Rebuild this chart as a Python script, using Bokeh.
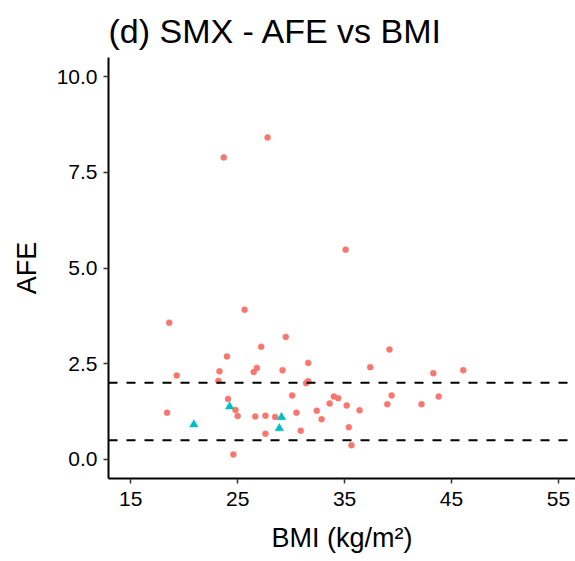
from bokeh.plotting import figure
from bokeh.models import Span, Range1d, FixedTicker
from bokeh.embed import file_html
from bokeh.resources import INLINE

# Group A (circles)
bmi_a = [18.6, 25.65, 19.3, 18.4, 24.0, 23.3, 23.2, 24.1, 24.8, 25.0, 24.6,
         27.2, 29.5, 26.8, 26.5, 29.2, 26.65, 27.6, 27.6, 28.5, 30.1, 30.5,
         30.9, 31.6, 31.6, 31.4, 32.4, 32.85, 33.6, 34.0, 34.4, 35.2, 35.4,
         35.65, 36.4, 37.4, 39.2, 39.0, 39.4, 42.2, 43.3, 43.8, 46.1,
         23.7, 27.8, 35.1]
afe_a = [3.57, 3.91, 2.19, 1.22, 2.69, 2.30, 2.05, 1.58, 1.29, 1.13, 0.13,
         2.94, 3.20, 2.39, 2.28, 2.33, 1.12, 1.14, 0.67, 1.11, 1.67, 1.22,
         0.75, 2.52, 2.04, 1.99, 1.27, 1.05, 1.46, 1.64, 1.60, 1.41, 0.84,
         0.37, 1.28, 2.41, 2.87, 1.44, 1.67, 1.44, 2.25, 1.64, 2.33,
         7.89, 8.41, 5.48]

# Group B (triangles)
bmi_b = [20.9, 24.25, 29.1, 28.9]
afe_b = [0.91, 1.38, 1.10, 0.81]

x_ticks = [15, 25, 35, 45, 55]
y_ticks = [0, 2.5, 5, 7.5, 10]
y_tick_labels = ["0.0", "2.5", "5.0", "7.5", "10.0"]
limit_lines = [0.5, 2.0]

FONT = "Liberation Sans"

p = figure(width=575, height=561, output_backend="svg", toolbar_location=None,
           x_range=Range1d(12.92, 56.6), y_range=Range1d(-0.5, 10.5),
           title="(d) SMX - AFE vs BMI",
           min_border_left=108, min_border_right=0, min_border_top=57,
           min_border_bottom=83, background_fill_color="white",
           border_fill_color="white", outline_line_color=None)

p.title.text_font = FONT
p.title.text_font_size = "34px"
p.title.text_font_style = "normal"
p.title.align = "left"
p.title.text_color = "black"
p.title.standoff = 12
p.title.vertical_align = "top"

p.xgrid.visible = False
p.ygrid.visible = False

for ax in (p.xaxis[0], p.yaxis[0]):
    ax.axis_line_color = "black"
    ax.axis_line_width = 2
    ax.major_tick_line_color = "#333333"
    ax.major_tick_line_width = 1.5
    ax.major_tick_out = 5
    ax.major_tick_in = 0
    ax.minor_tick_line_color = None
    ax.major_label_text_font = FONT
    ax.major_label_text_font_size = "21px"
    ax.major_label_text_color = "black"
    ax.axis_label_text_font = FONT
    ax.axis_label_text_font_size = "27px"
    ax.axis_label_text_font_style = "normal"
    ax.axis_label_text_color = "black"

p.xaxis.ticker = FixedTicker(ticks=x_ticks)
p.yaxis.ticker = FixedTicker(ticks=y_ticks)
p.yaxis.major_label_overrides = {t: l for t, l in zip(y_ticks, y_tick_labels)}
p.xaxis.axis_label = "BMI (kg/m²)"
p.yaxis.axis_label = "AFE"
p.xaxis.major_label_standoff = 8
p.yaxis.major_label_standoff = 6
p.xaxis.axis_label_standoff = 14
p.yaxis.axis_label_standoff = 12

for v in limit_lines:
    p.add_layout(Span(location=v, dimension="width", line_color="black",
                      line_width=2, line_dash="9 9"))

p.scatter(bmi_a, afe_a, marker="circle", size=6, fill_color="#F8766D",
          line_color="#F8766D", line_width=0.5)
p.scatter(bmi_b, afe_b, marker="triangle", size=8.5, fill_color="#00BFC4",
          line_color="#00BFC4", line_width=0.5)

open("out.html", "w").write(file_html(p, INLINE))
